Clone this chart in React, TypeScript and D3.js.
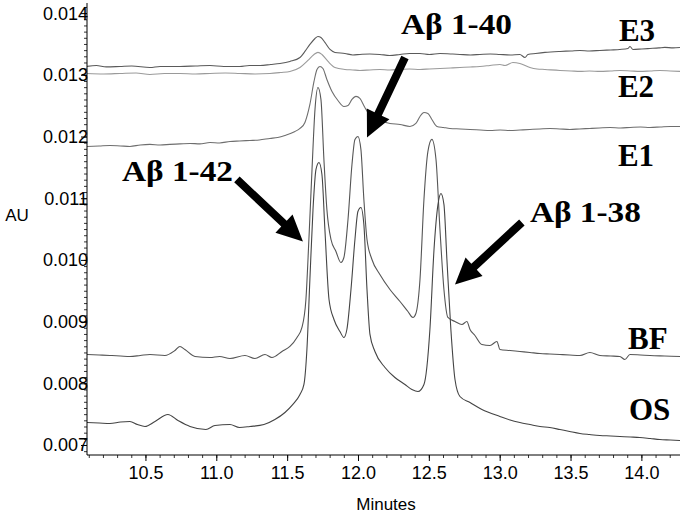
import React from "react";
import * as d3 from "d3";

// ---------- data (time in minutes, absorbance in AU) ----------
const xTickValues = [10.5, 11.0, 11.5, 12.0, 12.5, 13.0, 13.5, 14.0];
const yTickValues = [0.007, 0.008, 0.009, 0.01, 0.011, 0.012, 0.013, 0.014];

const e3Trace: [number, number][] = [
  [10.084,0.013144],[10.15,0.01316],[10.22,0.013136],[10.317,0.013144],[10.40,0.013152],[10.528,0.013127],
  [10.60,0.013144],[10.74,0.013144],[10.85,0.013152],[10.952,0.01316],[11.05,0.013144],[11.163,0.013144],
  [11.23,0.01316],[11.305,0.01316],[11.38,0.013176],[11.446,0.013192],[11.516,0.013225],[11.587,0.013289],
  [11.622,0.013387],[11.657,0.0135],[11.693,0.013597],[11.714,0.01363],[11.735,0.013614],[11.763,0.013533],
  [11.799,0.013419],[11.834,0.013371],[11.904,0.013354],[11.96,0.01333],[12.01,0.013338],[12.08,0.013346],
  [12.151,0.013338],[12.22,0.013322],[12.293,0.013338],[12.36,0.013354],[12.434,0.013354],[12.5,0.013338],
  [12.575,0.013354],[12.65,0.013346],[12.716,0.013338],[12.79,0.01333],[12.857,0.013338],[12.93,0.013346],
  [12.998,0.013338],[13.07,0.01333],[13.139,0.013338],[13.175,0.013289],[13.196,0.013338],[13.25,0.013354],
  [13.316,0.013371],[13.422,0.013387],[13.5,0.013395],[13.563,0.013403],[13.63,0.013395],[13.704,0.013403],
  [13.78,0.013411],[13.845,0.013419],[13.902,0.013435],[13.916,0.013468],[13.937,0.013419],[14.0,0.013427],
  [14.057,0.013435],[14.12,0.013444],[14.162,0.013452],[14.22,0.013444],[14.269,0.013452],
];

const e2Trace: [number, number][] = [
  [10.084,0.01303],[10.2,0.013022],[10.317,0.01303],[10.43,0.013038],[10.528,0.013014],[10.63,0.01303],
  [10.74,0.01303],[10.85,0.013022],[10.952,0.01303],[11.06,0.013038],[11.163,0.01303],[11.27,0.013022],
  [11.375,0.01303],[11.45,0.013046],[11.516,0.013063],[11.587,0.013127],[11.643,0.013241],[11.686,0.013338],
  [11.714,0.013371],[11.742,0.013338],[11.785,0.013225],[11.834,0.013127],[11.904,0.013095],[11.96,0.013087],
  [12.01,0.013079],[12.08,0.013087],[12.151,0.013095],[12.22,0.013087],[12.293,0.013095],[12.36,0.013103],
  [12.434,0.013095],[12.5,0.013103],[12.575,0.013111],[12.65,0.013119],[12.716,0.013127],[12.79,0.013135],
  [12.857,0.013144],[12.928,0.01316],[12.998,0.013176],[13.034,0.01316],[13.09,0.013208],[13.139,0.013192],
  [13.21,0.013127],[13.26,0.013103],[13.316,0.013095],[13.422,0.013079],[13.5,0.013071],[13.563,0.013063],
  [13.63,0.013071],[13.704,0.013063],[13.78,0.013071],[13.845,0.013079],[13.92,0.013071],[13.986,0.013063],
  [14.06,0.013071],[14.127,0.013079],[14.2,0.013071],[14.269,0.013063],
];

const e1Trace: [number, number][] = [
  [10.084,0.011847],[10.17,0.011855],[10.246,0.011863],[10.32,0.011855],[10.387,0.011847],[10.46,0.011871],
  [10.528,0.01188],[10.6,0.011871],[10.669,0.01188],[10.74,0.011888],[10.811,0.011896],[10.88,0.011888],
  [10.952,0.011912],[11.02,0.011904],[11.093,0.011928],[11.16,0.011936],[11.234,0.011944],[11.3,0.011952],
  [11.375,0.011977],[11.43,0.011993],[11.481,0.012026],[11.552,0.01209],[11.587,0.012139],[11.622,0.012236],
  [11.657,0.012528],[11.686,0.0129],[11.707,0.013095],[11.728,0.013144],[11.749,0.013111],[11.777,0.012933],
  [11.813,0.012738],[11.855,0.012592],[11.897,0.012495],[11.926,0.012511],[11.954,0.012609],[11.982,0.012658],
  [12.01,0.012625],[12.045,0.012479],[12.095,0.012317],[12.151,0.012268],[12.222,0.01222],[12.293,0.012203],
  [12.363,0.012171],[12.405,0.01222],[12.434,0.012333],[12.462,0.012398],[12.49,0.012382],[12.518,0.012284],
  [12.554,0.012171],[12.6,0.012155],[12.645,0.012139],[12.72,0.012131],[12.787,0.012122],[12.86,0.012114],
  [12.928,0.012106],[13.0,0.012114],[13.069,0.012106],[13.14,0.012114],[13.21,0.012122],[13.28,0.012131],
  [13.351,0.012139],[13.42,0.012131],[13.492,0.012122],[13.56,0.012131],[13.633,0.012139],[13.7,0.012147],
  [13.775,0.012155],[13.85,0.012147],[13.916,0.012155],[13.99,0.012163],[14.057,0.012155],[14.13,0.012163],
  [14.2,0.012171],[14.269,0.012171],
];

const bfTrace: [number, number][] = [
  [10.084,0.008475],[10.17,0.008467],[10.246,0.008459],[10.32,0.008451],[10.387,0.008443],[10.46,0.008459],
  [10.528,0.008475],[10.634,0.008459],[10.705,0.00854],[10.74,0.008605],[10.775,0.008556],[10.846,0.008443],
  [10.952,0.008426],[11.02,0.008443],[11.093,0.00841],[11.199,0.008459],[11.269,0.00841],[11.34,0.008475],
  [11.389,0.008426],[11.46,0.008524],[11.516,0.008605],[11.566,0.008751],[11.601,0.008913],[11.629,0.009367],
  [11.65,0.010339],[11.672,0.011474],[11.693,0.012447],[11.714,0.012803],[11.735,0.012609],[11.756,0.011636],
  [11.777,0.010826],[11.806,0.010339],[11.841,0.010145],[11.876,0.009966],[11.897,0.010047],[11.926,0.010663],
  [11.954,0.011555],[11.975,0.011961],[11.996,0.012009],[12.017,0.011799],[12.038,0.010988],[12.06,0.010339],
  [12.095,0.010015],[12.151,0.009772],[12.222,0.009529],[12.293,0.009334],[12.349,0.009172],[12.384,0.009075],
  [12.405,0.00914],[12.434,0.009691],[12.462,0.010988],[12.49,0.011766],[12.518,0.011961],[12.547,0.011636],
  [12.575,0.010501],[12.603,0.009529],[12.631,0.009075],[12.681,0.00901],[12.73,0.008961],[12.765,0.00901],
  [12.787,0.00888],[12.822,0.008783],[12.871,0.008637],[12.928,0.008621],[12.977,0.008686],[12.998,0.008556],
  [13.07,0.008540],[13.139,0.008524],[13.21,0.008508],[13.281,0.008491],[13.35,0.008483],[13.422,0.008475],
  [13.49,0.008467],[13.563,0.008459],[13.633,0.008508],[13.704,0.008459],[13.78,0.008451],[13.845,0.008443],
  [13.88,0.008394],[13.916,0.008475],[13.99,0.008467],[14.057,0.008459],[14.16,0.008451],[14.269,0.008443],
];

const osTrace: [number, number][] = [
  [10.084,0.007373],[10.17,0.007365],[10.246,0.007357],[10.32,0.007381],[10.387,0.007389],[10.44,0.00734],
  [10.493,0.007308],[10.564,0.007389],[10.655,0.007503],[10.726,0.007405],[10.811,0.007308],[10.923,0.007259],
  [10.987,0.007324],[11.093,0.00734],[11.16,0.007292],[11.234,0.007308],[11.333,0.00734],[11.41,0.007421],
  [11.481,0.007535],[11.537,0.007665],[11.587,0.007827],[11.615,0.007989],[11.636,0.008556],[11.657,0.009691],
  [11.679,0.010826],[11.7,0.011474],[11.721,0.011587],[11.742,0.011393],[11.763,0.010501],[11.792,0.009367],
  [11.827,0.009042],[11.869,0.008848],[11.897,0.008751],[11.918,0.00888],[11.947,0.009529],[11.975,0.010339],
  [11.996,0.010793],[12.017,0.010858],[12.038,0.010582],[12.06,0.009529],[12.081,0.0088],[12.116,0.008524],
  [12.187,0.008264],[12.257,0.008102],[12.328,0.007989],[12.377,0.007908],[12.42,0.007875],[12.462,0.007989],
  [12.504,0.00888],[12.533,0.010177],[12.561,0.010907],[12.582,0.011085],[12.603,0.010907],[12.624,0.010015],
  [12.652,0.00888],[12.681,0.00807],[12.716,0.007794],[12.787,0.007697],[12.871,0.007584],[12.998,0.00747],
  [13.07,0.007413],[13.139,0.007373],[13.21,0.00734],[13.281,0.007308],[13.35,0.007292],[13.422,0.007259],
  [13.49,0.007227],[13.563,0.007195],[13.63,0.007178],[13.704,0.007162],[13.78,0.007154],[13.845,0.007146],
  [13.92,0.007138],[13.986,0.00713],[14.06,0.007113],[14.127,0.007097],[14.2,0.007089],[14.269,0.007081],
];

const traceNames = ["E3", "E2", "E1", "BF", "OS"];
const traceData = [e3Trace, e2Trace, e1Trace, bfTrace, osTrace];
const traceColors = ["#5a5a5a", "#9a9a9a", "#6e6e6e", "#555555", "#444444"];

// trace labels anchored in data coordinates (left edge, baseline)
const traceLabelTimes = [13.838, 13.831, 13.831, 13.902, 13.909];
const traceLabelValues = [0.013549, 0.012641, 0.011523, 0.008556, 0.007421];

// peak annotations
const peakNames = ["Aβ 1-40", "Aβ 1-42", "Aβ 1-38"];
const peakTextTimes = [12.3, 10.331, 13.21];
const peakTextValues = [0.013662, 0.011279, 0.010615];
const arrowTailTimes = [12.328, 11.142, 13.153];
const arrowTailValues = [0.013289, 0.011312, 0.010615];
const arrowTipTimes = [12.06, 11.608, 12.681];
const arrowTipValues = [0.011993, 0.010307, 0.00961];

// ---------- layout ----------
const W = 680;
const H = 520;
const left = 87;
const right = 680;
const top = 3;
const bottom = 455;

export default function App() {
  const x = d3.scaleLinear().domain([10.084, 14.269]).range([left, right]);
  const y = d3.scaleLinear().domain([0.006846, 0.014172]).range([bottom, top]);

  const line = d3
    .line<[number, number]>()
    .x((d) => x(d[0]))
    .y((d) => y(d[1]))
    .curve(d3.curveMonotoneX);

  const xMinor = d3.range(101, 143).map((v) => v / 10);
  const yMinor = d3.range(69, 142).map((v) => v / 10000);

  const arrow = (i: number) => {
    const x0 = x(arrowTailTimes[i]);
    const y0 = y(arrowTailValues[i]);
    const x1 = x(arrowTipTimes[i]);
    const y1 = y(arrowTipValues[i]);
    const len = Math.hypot(x1 - x0, y1 - y0);
    const ux = (x1 - x0) / len;
    const uy = (y1 - y0) / len;
    const nx = -uy;
    const ny = ux;
    const sw = 4;
    const hw = 12.5;
    const hl = 26;
    const bx = x1 - ux * hl;
    const by = y1 - uy * hl;
    const pts = [
      [x0 + nx * sw, y0 + ny * sw],
      [bx + nx * sw, by + ny * sw],
      [bx + nx * hw, by + ny * hw],
      [x1, y1],
      [bx - nx * hw, by - ny * hw],
      [bx - nx * sw, by - ny * sw],
      [x0 - nx * sw, y0 - ny * sw],
    ];
    return pts.map((p) => p.join(",")).join(" ");
  };

  const sans = "'Liberation Sans', Arial, sans-serif";
  const serif = "'Liberation Serif', 'Times New Roman', serif";

  return (
    <svg
      width={W}
      height={H}
      style={{ position: "absolute", left: 0, top: 0, background: "#fff" }}
    >
      <rect x={0} y={0} width={W} height={H} fill="#fff" />
      <defs>
        <clipPath id="plot">
          <rect x={left} y={0} width={right - left} height={bottom} />
        </clipPath>
      </defs>

      {/* traces */}
      <g clipPath="url(#plot)" fill="none">
        {traceData.map((d, i) => (
          <path key={traceNames[i]} d={line(d) || ""} stroke={traceColors[i]} strokeWidth={1.1} />
        ))}
      </g>

      {/* axes */}
      <g stroke="#000" strokeWidth={1}>
        <line x1={left} y1={top} x2={left} y2={bottom} />
        <line x1={left} y1={bottom} x2={right} y2={bottom} />
        {yMinor.map((v) => (
          <line key={"ym" + v} x1={left - 3} x2={left} y1={y(v)} y2={y(v)} strokeWidth={0.8} />
        ))}
        {yTickValues.map((v) => (
          <line key={"yM" + v} x1={left - 6} x2={left} y1={y(v)} y2={y(v)} />
        ))}
        {xMinor.map((v) => (
          <line key={"xm" + v} x1={x(v)} x2={x(v)} y1={bottom} y2={bottom + 3} strokeWidth={0.8} />
        ))}
        {xTickValues.map((v) => (
          <line key={"xM" + v} x1={x(v)} x2={x(v)} y1={bottom} y2={bottom + 6} />
        ))}
      </g>

      {/* tick labels */}
      <g fontFamily={sans} fontSize={18} fill="#000">
        {yTickValues.map((v) => (
          <text key={"yl" + v} x={left + 1} y={y(v)} textAnchor="end" dominantBaseline="central">
            {d3.format(".3f")(v)}
          </text>
        ))}
        {xTickValues.map((v) => (
          <text key={"xl" + v} x={x(v)} y={479} textAnchor="middle">
            {d3.format(".1f")(v)}
          </text>
        ))}
      </g>

      {/* axis titles */}
      <text x={17} y={221} fontFamily={sans} fontSize={17} textAnchor="middle">AU</text>
      <text x={386} y={510} fontFamily={sans} fontSize={17} textAnchor="middle">Minutes</text>

      {/* trace labels */}
      <g fontFamily={serif} fontWeight="bold" fontSize={31} fill="#000">
        {traceNames.map((n, i) => (
          <text key={"tl" + n} x={x(traceLabelTimes[i])} y={y(traceLabelValues[i])}>
            {n}
          </text>
        ))}
      </g>

      {/* peak annotations */}
      <g fontFamily={serif} fontWeight="bold" fontSize={30} fill="#000">
        {peakNames.map((n, i) => (
          <g key={"pk" + i}>
            <text
              x={x(peakTextTimes[i])}
              y={y(peakTextValues[i])}
              textLength={111}
              lengthAdjust="spacingAndGlyphs"
            >
              {n}
            </text>
            <polygon points={arrow(i)} fill="#000" />
          </g>
        ))}
      </g>
    </svg>
  );
}
